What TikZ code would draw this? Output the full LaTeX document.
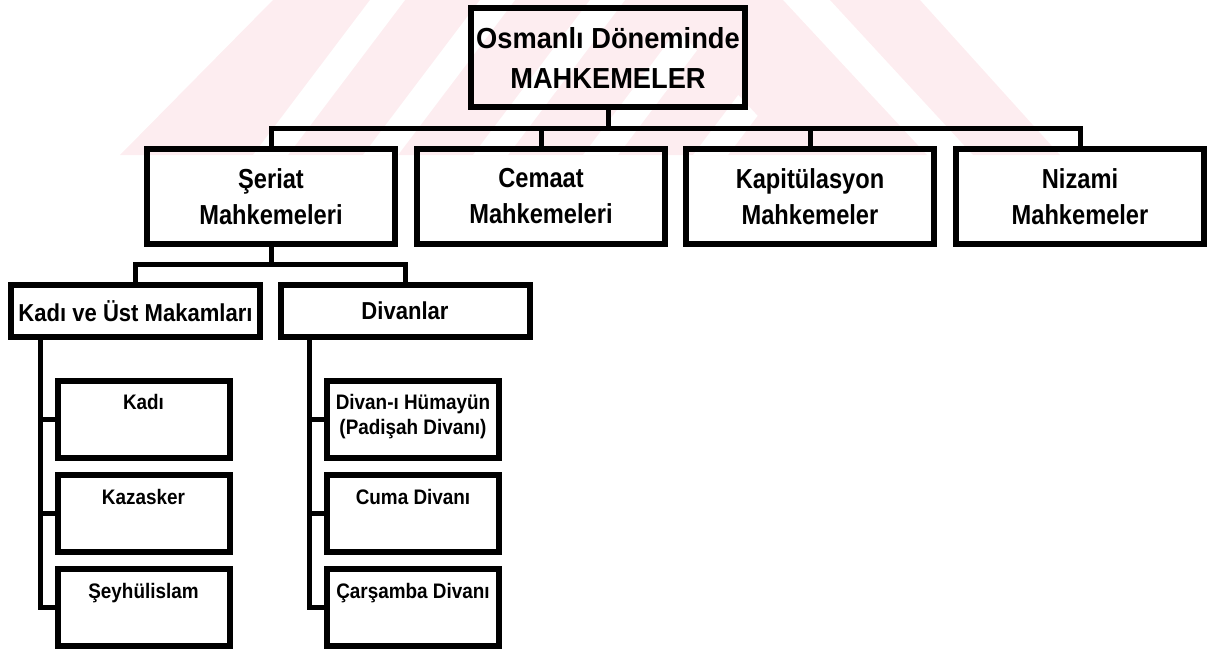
\documentclass[tikz,border=0pt]{standalone}
\usepackage{fontspec}
\setmainfont{Liberation Sans}[FakeStretch=0.9]
\newfontfamily\ttlfont{Liberation Sans}[FakeStretch=0.94]
\newfontfamily\midfont{Liberation Sans}[FakeStretch=0.86]
\definecolor{wm}{RGB}{253,237,240}
\begin{document}
\begin{tikzpicture}[x=1pt,y=-1pt,
  box/.style={draw=black, line width=6pt, rectangle, inner sep=0pt, align=center},
  conn/.style={draw=black, line width=5pt},
  ttl/.style={box, font=\ttlfont\fontsize{29}{40}\selectfont\bfseries, minimum width=274pt, minimum height=99pt},
  lvtwo/.style={box, font=\midfont\fontsize{27.5}{36}\selectfont\bfseries, minimum width=248pt, minimum height=95pt},
  lvthree/.style={box, font=\fontsize{24.5}{30}\selectfont\bfseries, minimum width=249pt, minimum height=52pt},
  leaf/.style={box, minimum width=172pt, minimum height=77pt},
  leaftxt/.style={anchor=north, inner sep=0pt, align=center, font=\fontsize{21}{25}\selectfont\bfseries}
]
\useasboundingbox (0,0) rectangle (1219,651);
% faint watermark
\begin{scope}
  \fill[wm] (120,155) -- (273,0) -- (783,0) -- (927,155) -- cycle;
  \fill[wm] (830,0) -- (920,0) -- (1060,155) -- (973,155) -- cycle;
  \begin{scope}
    \clip (0,0) -- (650,0) -- (794,155) -- (0,155) -- cycle;
    \fill[white] (253,155) -- (288,155) -- (405,0) -- (370,0) -- cycle;
    \fill[white] (363,155) -- (398,155) -- (515,0) -- (480,0) -- cycle;
    \fill[white] (473,155) -- (508,155) -- (625,0) -- (590,0) -- cycle;
    \fill[white] (583,155) -- (618,155) -- (735,0) -- (700,0) -- cycle;
    \fill[white] (693,155) -- (728,155) -- (845,0) -- (810,0) -- cycle;
  \end{scope}
\end{scope}

\node[ttl] (title) at (608,57.5) {Osmanlı Döneminde\\MAHKEMELER};

\node[lvtwo] (ser) at (271,196.5) {Şeriat\\Mahkemeleri};
\node[lvtwo] (cem) at (541,196.5) {Cemaat\\Mahkemeleri};
\node[lvtwo] (kap) at (810,196.5) {Kapitülasyon\\Mahkemeler};
\node[lvtwo] (niz) at (1080,196.5) {Nizami\\Mahkemeler};

\node[lvthree] (kum) at (135.5,311) {Kadı ve Üst Makamları};
\node[lvthree] (div) at (405,311) {Divanlar};

\node[leaf] (kadi) at (143.5,419) {};
\node[leaf] (kaz) at (143.5,513.5) {};
\node[leaf] (sey) at (143.5,607.5) {};
\node[leaf] (dh) at (413,419) {};
\node[leaf] (cuma) at (413,513.5) {};
\node[leaf] (car) at (413,607.5) {};

\node[leaftxt] (kadiT) at ([yshift=-17pt]kadi.north) {Kadı};
\node[leaftxt] (kazT) at ([yshift=-17pt]kaz.north) {Kazasker};
\node[leaftxt] (seyT) at ([yshift=-17pt]sey.north) {Şeyhülislam};
\node[leaftxt] (dhT) at ([yshift=-17pt]dh.north) {Divan-ı Hümayün\\(Padişah Divanı)};
\node[leaftxt] (cumaT) at ([yshift=-17pt]cuma.north) {Cuma Divanı};
\node[leaftxt] (carT) at ([yshift=-17pt]car.north) {Çarşamba Divanı};

% connectors
\draw[conn] (title.south) -- ++(0,18) -| (ser.north);
\draw[conn] (title.south) -- ++(0,18) -| (cem.north);
\draw[conn] (title.south) -- ++(0,18) -| (kap.north);
\draw[conn] (title.south) -- ++(0,18) -| (niz.north);

\draw[conn] (ser.south) -- ++(0,17) -| (kum.north);
\draw[conn] (ser.south) -- ++(0,17) -| (div.north);

\draw[conn] ([xshift=32pt]kum.south west) |- (kadi.west);
\draw[conn] ([xshift=32pt]kum.south west) |- (kaz.west);
\draw[conn] ([xshift=32pt]kum.south west) |- (sey.west);
\draw[conn] ([xshift=32pt]div.south west) |- (dh.west);
\draw[conn] ([xshift=32pt]div.south west) |- (cuma.west);
\draw[conn] ([xshift=32pt]div.south west) |- (car.west);
\end{tikzpicture}
\end{document}
